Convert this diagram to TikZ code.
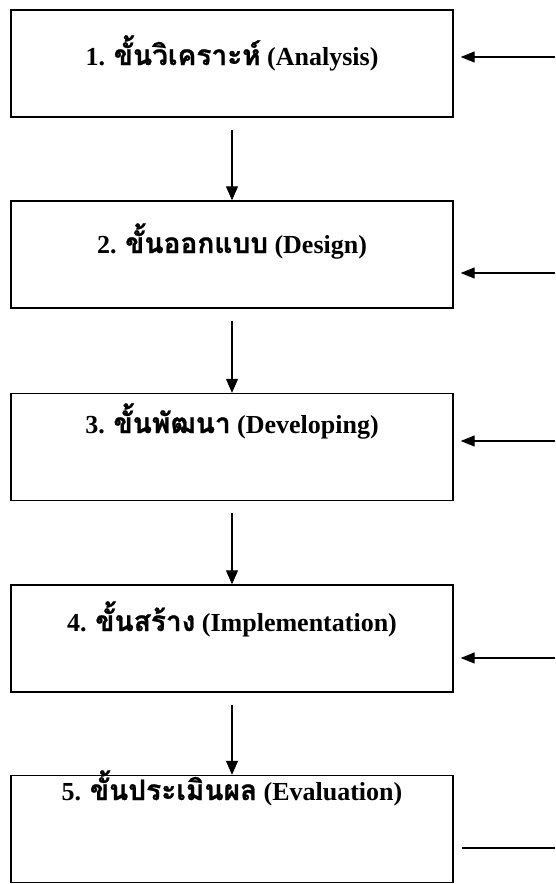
\documentclass[tikz,border=0pt]{standalone}
\usepackage{fontspec}
\setmainfont{Liberation Serif}
\newfontfamily\thaifont[Script=Thai,Scale=1.08,FakeBold=0.9]{Loma}
\usetikzlibrary{arrows.meta,positioning}

\begin{document}
\begin{tikzpicture}[x=1pt, y=-1pt,
    stagebox/.style={draw=black, line width=1.4pt, minimum width=442pt, minimum height=107pt, inner sep=0pt},
    stagelabel/.style={anchor=base, inner sep=0pt, font=\fontsize{26}{30}\selectfont\bfseries},
    flow/.style={-{Triangle[length=14pt,width=12pt]}, line width=1.2pt, shorten <=12pt},
    feed/.style={-{Triangle[length=14pt,width=11pt]}, line width=1.2pt, shorten >=7pt}
]
\useasboundingbox (0,0) rectangle (555,884);

\node[stagebox] (analysis) at (232,63.5) {};
\node[stagebox] (design) at (232,254.5) {};
\node[stagebox] (develop) at (232,447) {};
\node[stagebox] (implement) at (232,638.5) {};
\node[stagebox] (evaluate) at (232,829) {};

\node[stagelabel] (analysistext) at (232,65) {1. {\thaifont ขั้นวิเคราะห์} (Analysis)};
\node[stagelabel] (designtext) at (232,253) {2. {\thaifont ขั้นออกแบบ} (Design)};
\node[stagelabel] (developtext) at (232,433) {3. {\thaifont ขั้นพัฒนา} (Developing)};
\node[stagelabel] (implementtext) at (232,631) {4. {\thaifont ขั้นสร้าง} (Implementation)};
\node[stagelabel] (evaluatetext) at (232,800) {5. {\thaifont ขั้นประเมินผล} (Evaluation)};

\draw[flow] (analysis) -- (design);
\draw[flow] (design) -- (develop);
\draw[flow] (develop) -- (implement);
\draw[flow] (implement) -- (evaluate);

% feedback from the right
\coordinate (back1) at (555,57);
\coordinate (back2) at (555,273);
\coordinate (back3) at (555,441);
\coordinate (back4) at (555,658);
\coordinate (back5) at (555,848);
\draw[feed] (back1) -- (analysis.east |- back1);
\draw[feed] (back2) -- (design.east |- back2);
\draw[feed] (back3) -- (develop.east |- back3);
\draw[feed] (back4) -- (implement.east |- back4);
\draw[line width=1.2pt, shorten <=8pt] (evaluate.east |- back5) -- (back5);

\end{tikzpicture}
\end{document}
